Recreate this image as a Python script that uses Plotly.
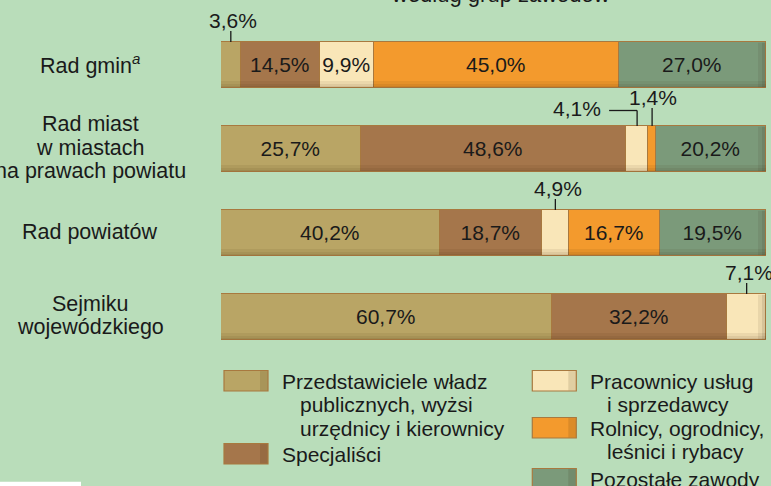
import plotly.graph_objects as go

# ---------------- data ----------------
categories = [
    "Rad gmin",
    "Rad miast w miastach na prawach powiatu",
    "Rad powiatów",
    "Sejmiku wojewódzkiego",
]
category_label_lines = [
    ["Rad gmin<sup><i>a</i></sup>"],
    ["Rad miast", "w miastach", "na prawach powiatu"],
    ["Rad powiatów"],
    ["Sejmiku", "wojewódzkiego"],
]

series_names = [
    "Przedstawiciele władz publicznych, wyżsi urzędnicy i kierownicy",
    "Specjaliści",
    "Pracownicy usług i sprzedawcy",
    "Rolnicy, ogrodnicy, leśnici i rybacy",
    "Pozostałe zawody",
]
legend_lines = [
    ["Przedstawiciele władz", "publicznych, wyżsi", "urzędnicy i kierownicy"],
    ["Specjaliści"],
    ["Pracownicy usług", "i sprzedawcy"],
    ["Rolnicy, ogrodnicy,", "leśnici i rybacy"],
    ["Pozostałe zawody"],
]

przedstawiciele = [3.6, 25.7, 40.2, 60.7]
specjalisci = [14.5, 48.6, 18.7, 32.2]
pracownicy = [9.9, 4.1, 4.9, 7.1]
rolnicy = [45.0, 1.4, 16.7, 0.0]
pozostale = [27.0, 20.2, 19.5, 0.0]
series_values = [przedstawiciele, specjalisci, pracownicy, rolnicy, pozostale]

title_text = "według grup zawodów"

# ---------------- style ----------------
W, H = 771, 486
L, R, T, B = 221, 5, 23, 127
PW, PH = W - L - R, H - T - B
SLOT_PX = PH / len(categories)
BAR_PX = 46
HALF = BAR_PX / 2

FONT = "Liberation Sans, Arial, sans-serif"
TXT = "#1a1a1a"
BG = "#b9ddba"
EDGE = "#a8793f"
colors = ["#b9a565", "#a5764b", "#f9e6b8", "#f39a2d", "#7b9a7a"]
SMALL = 8.0  # values below this get an outside call-out


def fmt(v):
    return f"{v:.1f}".replace(".", ",") + "%"


def pxx(px):
    return (px - L) / PW


def pxy(py):
    return 1 - (py - T) / PH


fig = go.Figure()

for name, vals, col in zip(series_names, series_values, colors):
    fig.add_trace(go.Bar(
        y=categories,
        x=[v if v > 0 else None for v in vals],
        orientation="h",
        name=name,
        width=BAR_PX / SLOT_PX,
        marker=dict(color=col, line=dict(color=EDGE, width=1.5)),
        text=[fmt(v) if v >= SMALL else "" for v in vals],
        textposition="inside",
        insidetextanchor="middle",
        constraintext="none",
        textangle=0,
        textfont=dict(family=FONT, size=21, color=TXT),
        hoverinfo="skip",
        showlegend=False,
    ))

shapes = []
annotations = []

# subtle bevel shading along the bottom and right end of every bar
for ci in range(len(categories)):
    total = sum(vals[ci] for vals in series_values)
    for depth, alpha in ((7, 0.07), (4, 0.07), (2, 0.07)):
        shapes.append(dict(type="rect", xref="x", yref="y", ysizemode="pixel", yanchor=ci,
                           x0=0, x1=total, y0=-HALF + 0.8, y1=-HALF + depth,
                           fillcolor=f"rgba(60,30,0,{alpha})", line=dict(width=0), layer="above"))
    for depth, alpha in ((8, 0.08), (4, 0.1)):
        shapes.append(dict(type="rect", xref="x", yref="y", xsizemode="pixel", ysizemode="pixel",
                           xanchor=total, yanchor=ci,
                           x0=-depth, x1=-0.8, y0=-HALF + 0.8, y1=HALF - 0.8,
                           fillcolor=f"rgba(50,30,10,{alpha})", line=dict(width=0), layer="above"))

# call-outs for small segments
special = {
    (2, 1): dict(rise=15.5, run=-28, lx=-34, ly=17.5, anchor="right"),
    (3, 1): dict(rise=18, run=0, lx=1, ly=28.5, anchor="center"),
}
for ci in range(len(categories)):
    start = 0.0
    for si, vals in enumerate(series_values):
        v = vals[ci]
        if 0 < v < SMALL:
            xc = start + v / 2
            st = special.get((si, ci), dict(rise=11, run=0, lx=2.5, ly=22, anchor="center"))
            shapes.append(dict(type="line", xref="x", yref="y",
                               xsizemode="pixel", ysizemode="pixel",
                               xanchor=xc, yanchor=ci,
                               x0=0, x1=0, y0=HALF, y1=HALF + st["rise"],
                               line=dict(color=TXT, width=1.3)))
            if st["run"]:
                shapes.append(dict(type="line", xref="x", yref="y",
                                   xsizemode="pixel", ysizemode="pixel",
                                   xanchor=xc, yanchor=ci,
                                   x0=0, x1=st["run"], y0=HALF + st["rise"], y1=HALF + st["rise"],
                                   line=dict(color=TXT, width=1.3)))
            annotations.append(dict(x=xc, y=categories[ci], xref="x", yref="y",
                                    xshift=st["lx"], yshift=HALF + st["ly"],
                                    text=fmt(v), showarrow=False,
                                    xanchor=st["anchor"], yanchor="middle",
                                    font=dict(family=FONT, size=21, color=TXT)))
        start += v

# category labels (centred, tight line spacing)
LINE_PITCH = 23.5
for ci, lines in enumerate(category_label_lines):
    n = len(lines)
    for li, line in enumerate(lines):
        off = ((n - 1) / 2 - li) * LINE_PITCH + 1.5
        annotations.append(dict(x=pxx(90), y=categories[ci], xref="paper", yref="y",
                                yshift=off, text=line, showarrow=False,
                                xanchor="center", yanchor="middle",
                                font=dict(family=FONT, size=21.5, color=TXT)))

# title (mostly cropped at the top edge)
annotations.append(dict(x=pxx(500), y=pxy(-5.5), xref="paper", yref="paper",
                        text=title_text, showarrow=False, xanchor="center", yanchor="middle",
                        font=dict(family=FONT, size=22, color=TXT)))

# legend (manual, two columns with hanging indent)
col_swatch_x = [224, 532.3]
col_text_x = [280, 587.7]
INDENT = 17.5
LEG_PITCH = 23.8
leg_pos = [(0, 381), (0, 454), (1, 381), (1, 428), (1, 479)]
for si, ((col, y0), lines) in enumerate(zip(leg_pos, legend_lines)):
    sx = col_swatch_x[col]
    shapes.append(dict(type="rect", xref="paper", yref="paper",
                       x0=pxx(sx), x1=pxx(sx + 44), y0=pxy(y0 - 10.5), y1=pxy(y0 + 10),
                       fillcolor=colors[si], line=dict(color=EDGE, width=1.2)))
    shapes.append(dict(type="rect", xref="paper", yref="paper",
                       x0=pxx(sx + 36), x1=pxx(sx + 43.4), y0=pxy(y0 - 9.9), y1=pxy(y0 + 9.4),
                       fillcolor="rgba(50,30,10,0.12)", line=dict(width=0)))
    for li, line in enumerate(lines):
        tx = col_text_x[col] + (INDENT if li > 0 else 0)
        annotations.append(dict(x=pxx(tx), y=pxy(y0 + li * LEG_PITCH), xref="paper", yref="paper",
                                text=line, showarrow=False, xanchor="left", yanchor="middle",
                                font=dict(family=FONT, size=21, color=TXT)))

# white patch at bottom-left corner
shapes.append(dict(type="rect", xref="paper", yref="paper",
                   x0=pxx(-2), x1=pxx(81), y0=pxy(481.7), y1=pxy(490),
                   fillcolor="white", line=dict(width=0), layer="above"))

fig.update_layout(
    width=W, height=H,
    margin=dict(l=L, r=R, t=T, b=B, pad=0),
    barmode="stack",
    bargap=0,
    paper_bgcolor=BG, plot_bgcolor=BG,
    xaxis=dict(range=[0, 100], visible=False, fixedrange=True),
    yaxis=dict(categoryorder="array", categoryarray=categories,
               range=[len(categories) - 0.5, -0.5], visible=False, fixedrange=True),
    shapes=shapes,
    annotations=annotations,
    font=dict(family=FONT, color=TXT),
)

fig.write_html("out.html")
